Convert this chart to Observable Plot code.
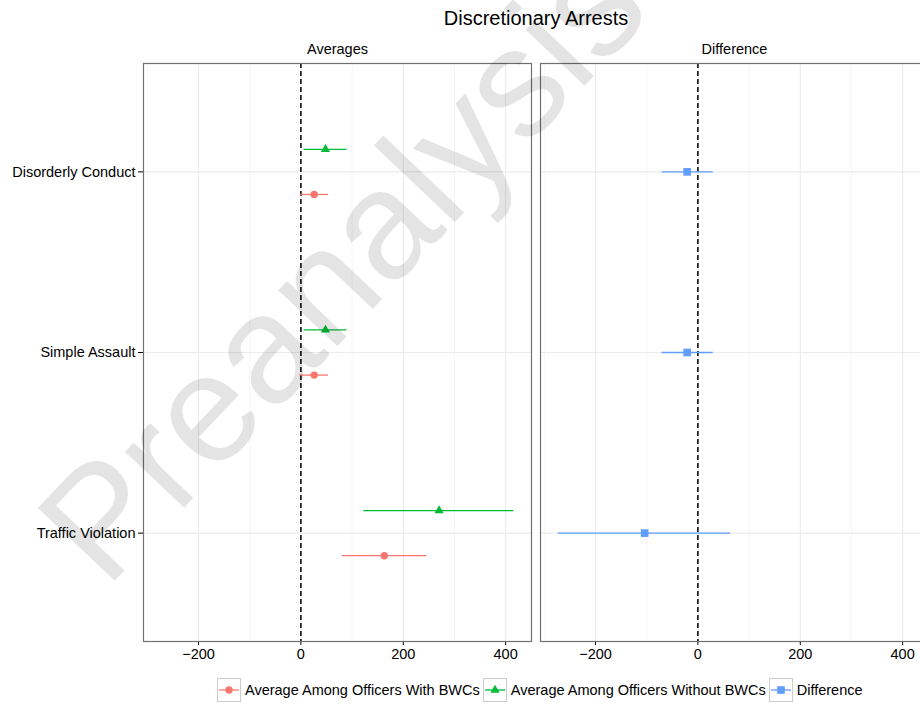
<!DOCTYPE html>
<html>
<head>
<meta charset="utf-8">
<script src="https://cdn.jsdelivr.net/npm/d3@7"></script>
<script src="https://cdn.jsdelivr.net/npm/@observablehq/plot@0.6"></script>
<style>
  html, body { margin: 0; padding: 0; background: #fff; overflow: hidden; width: 920px; height: 705px; }
  body { position: relative; font-family: "Liberation Sans", Arial, Helvetica, sans-serif; color: #000; }
  #title { width: 1072px; height: 30px; box-sizing: border-box; padding-top: 6px; line-height: 24px;
           font-size: 20px; text-align: center; white-space: nowrap; }
  #chart svg { display: block; overflow: visible; max-width: none !important; }
  #legend { display: flex; align-items: center; margin-left: 217px; padding-top: 8px; white-space: nowrap;
            font-size: 14.5px; }
  #legend .item { display: flex; align-items: center; margin-right: 3px; }
  #legend svg { display: block; margin-right: 4px; }
  #watermark { position: absolute; left: 0; top: 0; pointer-events: none; }
</style>
</head>
<body>
<div id="title">Discretionary Arrests</div>
<div id="chart"></div>
<div id="legend"></div>
<script>
// Categories, panels and series
const categories = ["Disorderly Conduct", "Simple Assault", "Traffic Violation"];
const panels = ["Averages", "Difference"];
const series = [
  "Average Among Officers With BWCs",
  "Average Among Officers Without BWCs",
  "Difference"
];
const seriesColors = ["#F8766D", "#00BA38", "#619CFF"];
const seriesSymbols = ["circle", "triangle", "square"];

// Point estimates and interval bounds, one value per category
const withEst = [26, 26, 163];
const withLo = [-1, -2, 81];
const withHi = [54, 54, 246];
const withoutEst = [48, 48, 270];
const withoutLo = [6, 6, 123];
const withoutHi = [90, 90, 416];
const diffEst = [-21, -21, -104];
const diffLo = [-70, -70, -273];
const diffHi = [30, 30, 64];

// Axis ticks
const xTicks = [-200, 0, 200, 400];
const xMinor = [-300, -100, 100, 300];

// Dodge offsets (in category units) so the two averages sit side by side
const dodge = { [series[0]]: 0.125, [series[1]]: -0.125, [series[2]]: 0 };

const rows = [];
categories.forEach((c, i) => {
  rows.push({ panel: panels[0], category: c, series: series[0], est: withEst[i], lo: withLo[i], hi: withHi[i] });
  rows.push({ panel: panels[0], category: c, series: series[1], est: withoutEst[i], lo: withoutLo[i], hi: withoutHi[i] });
  rows.push({ panel: panels[1], category: c, series: series[2], est: diffEst[i], lo: diffLo[i], hi: diffHi[i] });
});
rows.forEach(d => { d.pos = categories.indexOf(d.category) + 1 + dodge[d.series]; });

const font = '"Liberation Sans", Arial, Helvetica, sans-serif';

const chart = Plot.plot({
  width: 940,
  height: 640,
  marginLeft: 143,
  marginRight: 11,
  marginTop: 33,
  marginBottom: 29,
  style: { fontFamily: font, fontSize: "14.5px", color: "#000", background: "white", overflow: "visible", maxWidth: "none" },
  facet: { data: rows, x: "panel" },
  fx: { domain: panels, paddingInner: 0.022, paddingOuter: 0, axis: "top", label: null, tickSize: 0, tickPadding: 10 },
  x: { domain: [-307.5, 450.5], ticks: xTicks, tickSize: 4, tickPadding: 3, label: null },
  y: { domain: [0.4, 3.6], reverse: true, ticks: [1, 2, 3], tickFormat: i => categories[i - 1],
       tickSize: 5, tickPadding: 3, label: null },
  color: { domain: series, range: seriesColors },
  marks: [
    Plot.ruleX(xMinor, { stroke: "#f4f4f4", strokeWidth: 0.8 }),
    Plot.ruleX(xTicks, { stroke: "#ebebeb", strokeWidth: 1.1 }),
    Plot.ruleY([1, 2, 3], { stroke: "#ebebeb", strokeWidth: 1.1 }),
    Plot.ruleX([0], { stroke: "#000", strokeWidth: 1.5, strokeDasharray: "5,3" }),
    Plot.ruleY(rows, { y: "pos", x1: "lo", x2: "hi", stroke: "series", strokeWidth: 1.3 }),
    Plot.dot(rows, { filter: d => d.series === series[0], x: "est", y: "pos", fill: "series", symbol: "circle", r: 3.7, stroke: null }),
    Plot.dot(rows, { filter: d => d.series === series[1], x: "est", y: "pos", fill: "series", symbol: "triangle", r: 3.4, stroke: null }),
    Plot.dot(rows, { filter: d => d.series === series[2], x: "est", y: "pos", fill: "series", symbol: "square", r: 4.3, stroke: null }),
    Plot.frame({ stroke: "#707070", strokeWidth: 1.2 })
  ]
});
document.getElementById("chart").appendChild(chart);

// Legend: a boxed key (line + symbol) followed by the series name
const legend = d3.select("#legend");
series.forEach((s, i) => {
  const item = legend.append("div").attr("class", "item");
  const svg = item.append("svg").attr("width", 24).attr("height", 24);
  svg.append("rect").attr("x", 0.5).attr("y", 0.5).attr("width", 23).attr("height", 23)
    .attr("fill", "#fff").attr("stroke", "#cccccc");
  svg.append("line").attr("x1", 2).attr("x2", 22).attr("y1", 12).attr("y2", 12)
    .attr("stroke", seriesColors[i]).attr("stroke-width", 1.3);
  const sym = { circle: d3.symbolCircle, triangle: d3.symbolTriangle, square: d3.symbolSquare }[seriesSymbols[i]];
  const r = [3.7, 3.4, 4.3][i];
  svg.append("path").attr("transform", "translate(12,12)")
    .attr("d", d3.symbol(sym, Math.PI * r * r)()).attr("fill", seriesColors[i]);
  item.append("span").text(s);
});

// Draft watermark across the page
const wm = d3.select("body").append("svg").attr("id", "watermark").attr("width", 920).attr("height", 705);
wm.append("text")
  .attr("transform", "translate(106,590) rotate(-46.5)")
  .attr("font-family", font).attr("font-size", 154)
  .attr("fill", "#000").attr("fill-opacity", 0.105)
  .text("Preanalysis");
</script>
</body>
</html>
